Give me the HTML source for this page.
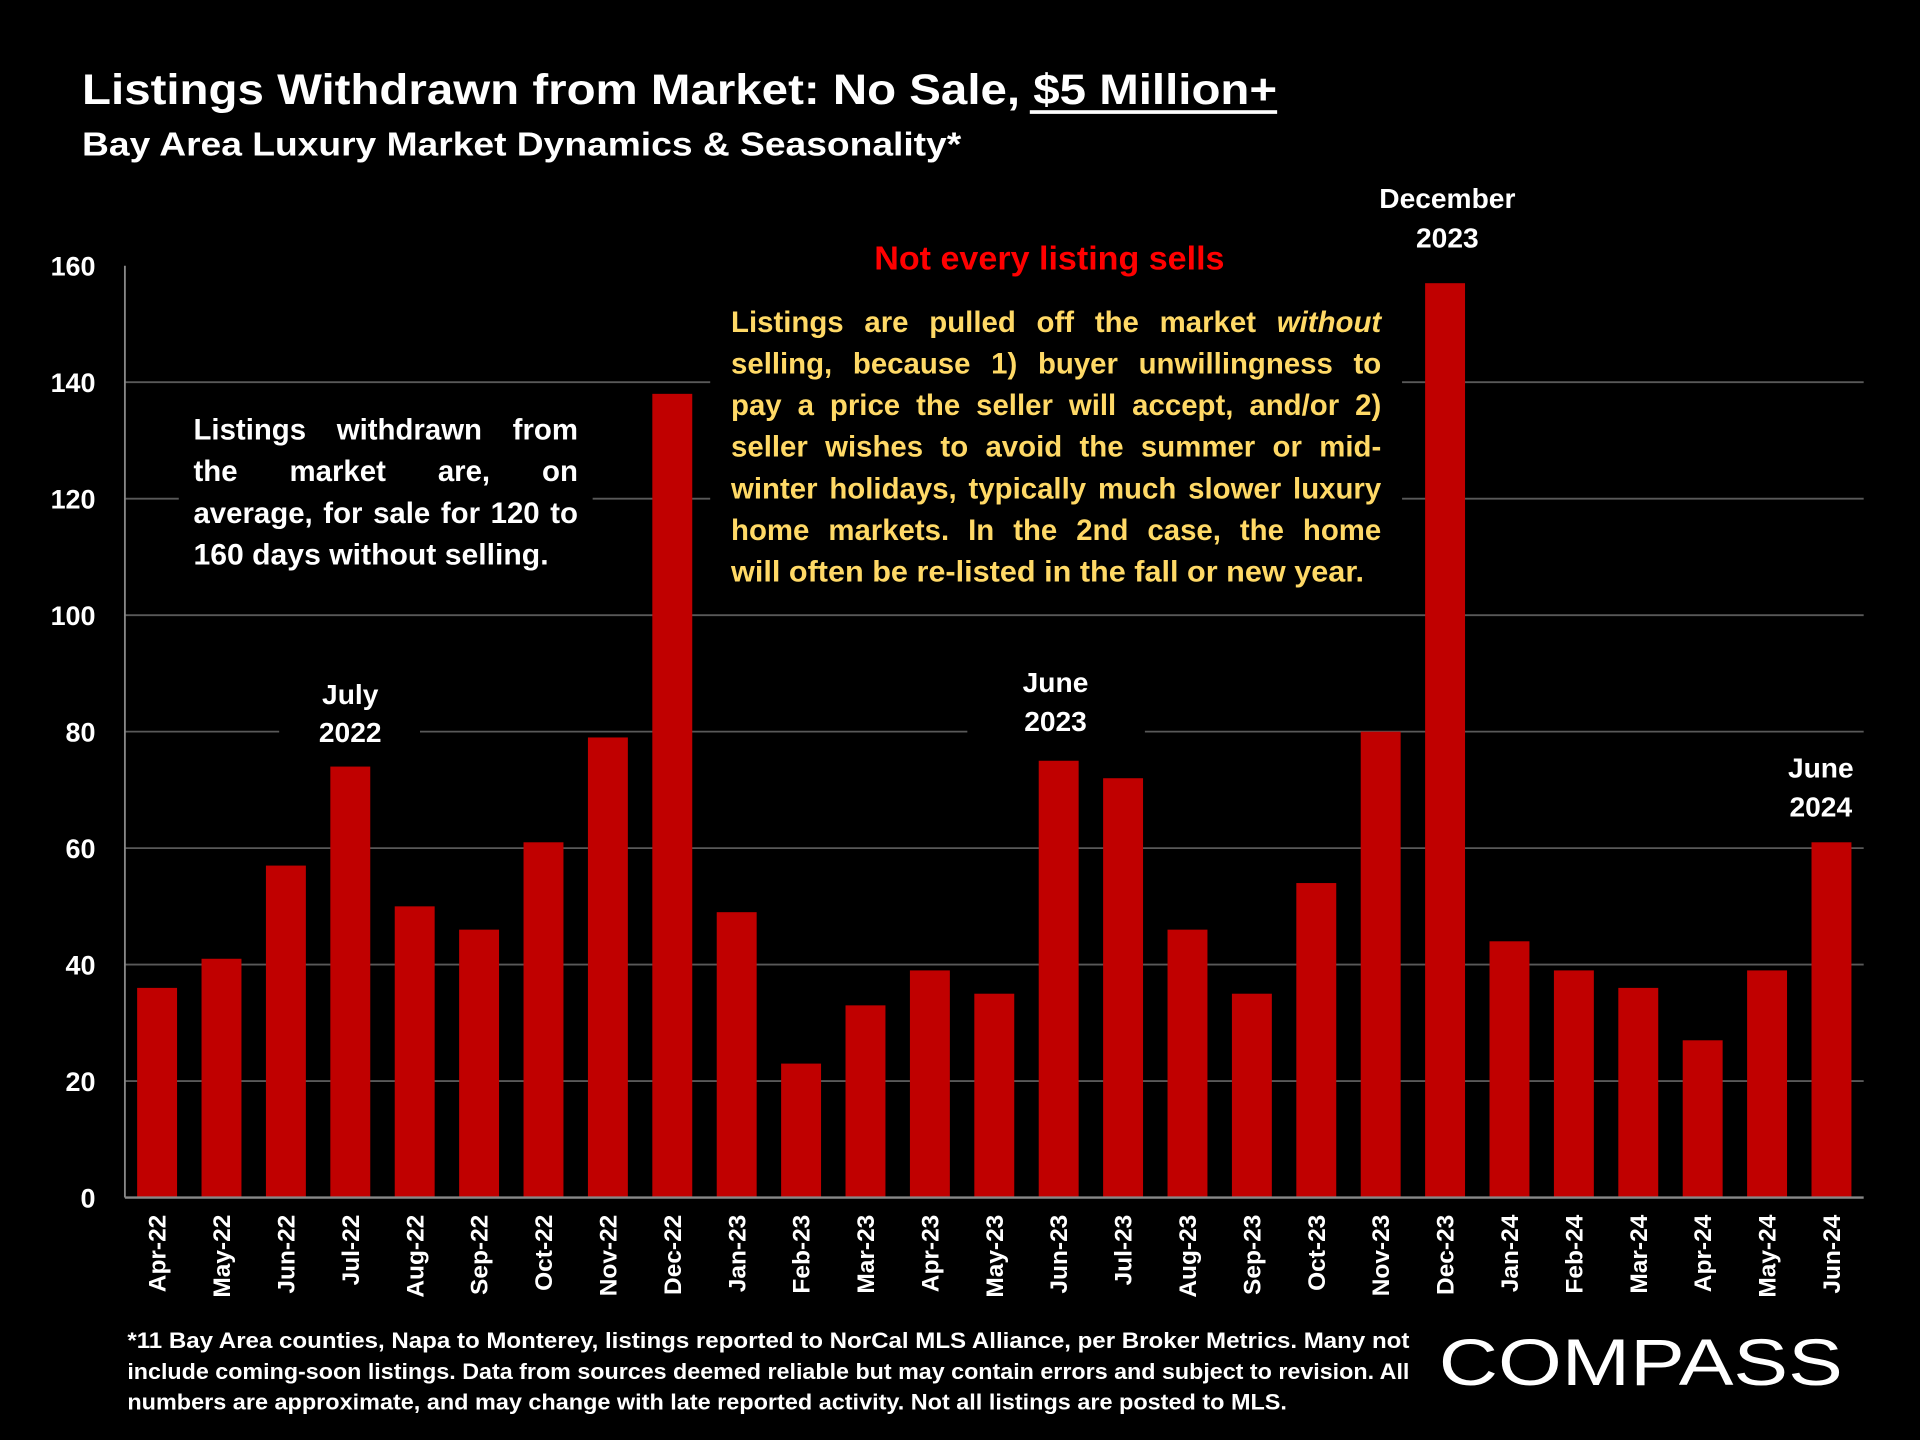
<!DOCTYPE html>
<html><head><meta charset="utf-8"><style>
html,body{margin:0;padding:0;background:#000;}
svg{display:block;font-family:"Liberation Sans Narrow","Liberation Sans",sans-serif;font-weight:bold;}
</style></head><body>
<svg id="chart" width="1920" height="1440" viewBox="0 0 1568 1176" xmlns="http://www.w3.org/2000/svg">
<rect width="1568" height="1176" fill="#000"/>
<g id="grid"></g>
<g id="bars"></g>
<line x1="102" y1="217" x2="102" y2="978" stroke="#888" stroke-width="1.5"/>
<line x1="102" y1="978" x2="1522" y2="978" stroke="#888" stroke-width="2"/>
<g id="yticks"></g>
<g id="xticks"></g>

<g fill="#fff">
<text x="67" y="85" font-size="35" textLength="976" lengthAdjust="spacingAndGlyphs">Listings Withdrawn from Market:  No Sale, $5 Million+</text>
<rect x="841" y="90" width="202" height="3" fill="#fff"/>
</g>
<text x="67" y="127" font-size="27" fill="#fff" textLength="718" lengthAdjust="spacingAndGlyphs">Bay Area Luxury Market Dynamics &amp; Seasonality*</text>

<g fill="#fff" font-size="24">
<rect x="146" y="330" width="338" height="145" fill="#000"/>
<text class="just" data-w="314" x="158" y="359">Listings withdrawn from</text>
<text class="just" data-w="314" x="158" y="393">the market are, on</text>
<text class="just" data-w="314" x="158" y="427">average, for sale for 120 to</text>
<text x="158" y="461" textLength="290" lengthAdjust="spacingAndGlyphs">160 days without selling.</text>
</g>

<g font-size="24" fill="#FFD966">
<rect x="580" y="190" width="565" height="300" fill="#000"/>
<text x="857" y="220" font-size="27" fill="#FF0000" text-anchor="middle" textLength="286" lengthAdjust="spacingAndGlyphs">Not every listing sells</text>
<text class="just" data-w="531" x="597" y="271">Listings are pulled off the market <tspan font-style="italic">without</tspan></text>
<text class="just" data-w="531" x="597" y="305">selling, because 1) buyer unwillingness to</text>
<text class="just" data-w="531" x="597" y="339">pay a price the seller will accept, and/or 2)</text>
<text class="just" data-w="531" x="597" y="373">seller wishes to avoid the summer or mid-</text>
<text class="just" data-w="531" x="597" y="407">winter holidays, typically much slower luxury</text>
<text class="just" data-w="531" x="597" y="441">home markets. In the 2nd case, the home</text>
<text x="597" y="475" textLength="517" lengthAdjust="spacingAndGlyphs">will often be re-listed in the fall or new year.</text>
</g>

<g fill="#fff" font-size="23" text-anchor="middle">
<rect x="228" y="550" width="115" height="64" fill="#000"/>
<text x="286" y="575">July</text><text x="286" y="606">2022</text>
</g>
<g fill="#fff" font-size="23" text-anchor="middle">
<rect x="790" y="540" width="145" height="66" fill="#000"/>
<text x="862" y="565">June</text><text x="862" y="597">2023</text>
</g>
<g fill="#fff" font-size="23" text-anchor="middle">
<text x="1182" y="170">December</text><text x="1182" y="202">2023</text>
</g>
<g fill="#fff" font-size="23" text-anchor="middle">
<rect x="1440" y="610" width="90" height="64" fill="#000"/>
<text x="1487" y="635">June</text><text x="1487" y="667">2024</text>
</g>

<g fill="#fff" font-size="18" font-weight="bold">
<text x="104" y="1101" textLength="1047" lengthAdjust="spacingAndGlyphs">*11 Bay Area counties, Napa to Monterey, listings reported to NorCal MLS Alliance, per Broker Metrics. Many not</text>
<text x="104" y="1126" textLength="1047" lengthAdjust="spacingAndGlyphs">include coming-soon listings. Data from sources deemed reliable but may contain errors and subject to revision. All</text>
<text x="104" y="1151" textLength="947" lengthAdjust="spacingAndGlyphs">numbers are approximate, and may change with late reported activity. Not all listings are posted to MLS.</text>
</g>
<text x="1175" y="1131" fill="#fff" font-size="54" font-weight="normal" font-family="Liberation Sans, sans-serif" textLength="330" lengthAdjust="spacingAndGlyphs">COMPASS</text>
</svg>
<script>
const categories=["Apr-22","May-22","Jun-22","Jul-22","Aug-22","Sep-22","Oct-22","Nov-22","Dec-22","Jan-23","Feb-23","Mar-23","Apr-23","May-23","Jun-23","Jul-23","Aug-23","Sep-23","Oct-23","Nov-23","Dec-23","Jan-24","Feb-24","Mar-24","Apr-24","May-24","Jun-24"];
const values=[36,41,57,74,50,46,61,79,138,49,23,33,39,35,75,72,46,35,54,80,157,44,39,36,27,39,61];
const yTicks=[0,20,40,60,80,100,120,140,160];
const NS="http://www.w3.org/2000/svg";
const X0=102,X1=1522,Y0=978,Y1=217,YMAX=160;
const n=categories.length;
const band=(X1-X0)/n;
function xc(i){return X0+band*(i+0.5);}
function y(v){return Y0-(v/YMAX)*(Y0-Y1);}
const grid=document.getElementById('grid'),bars=document.getElementById('bars'),yt=document.getElementById('yticks'),xt=document.getElementById('xticks');
yTicks.forEach(t=>{
  if(t>0&&t<YMAX){const l=document.createElementNS(NS,'line');
  
  
  l.setAttribute('x1',X0);l.setAttribute('x2',X1);l.setAttribute('y1',y(t));l.setAttribute('y2',y(t));
  l.setAttribute('stroke','#595959');l.setAttribute('stroke-width','1.5');grid.appendChild(l);}
  const tx=document.createElementNS(NS,'text');
  
  
  tx.setAttribute('x',78);tx.setAttribute('y',y(t)+8);tx.setAttribute('text-anchor','end');
  tx.setAttribute('fill','#fff');tx.setAttribute('font-size','22');tx.textContent=t;yt.appendChild(tx);
});
const bw=band*0.62;
values.forEach((v,i)=>{
  const r=document.createElementNS(NS,'rect');
  
  
  r.setAttribute('x',xc(i)-bw/2);r.setAttribute('y',y(v));r.setAttribute('width',bw);r.setAttribute('height',Y0-y(v));
  r.setAttribute('fill','#C00000');bars.appendChild(r);
});
categories.forEach((c,i)=>{
  const tx=document.createElementNS(NS,'text');
  
  
  const cx=xc(i)+7,cy=992;
  tx.setAttribute('x',cx);tx.setAttribute('y',cy);tx.setAttribute('text-anchor','end');
  tx.setAttribute('transform','rotate(-90 '+cx+' '+cy+')');
  tx.setAttribute('fill','#fff');tx.setAttribute('font-size','20');tx.textContent=c;xt.appendChild(tx);
});
document.querySelectorAll('text.just').forEach(el=>{
  const target=+el.getAttribute('data-w');
  const nat=el.getComputedTextLength();
  const spaces=(el.textContent.match(/ /g)||[]).length;
  if(spaces>0&&target>nat){el.setAttribute('word-spacing',((target-nat)/spaces).toFixed(2));}
  else if(target<nat){el.setAttribute('textLength',target);el.setAttribute('lengthAdjust','spacingAndGlyphs');}
});
</script>
</body></html>
